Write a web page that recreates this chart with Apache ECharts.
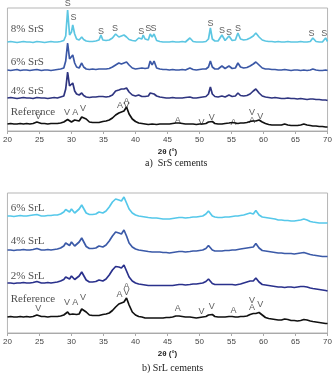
<!DOCTYPE html>
<html>
<head>
<meta charset="utf-8">
<script src="https://cdn.jsdelivr.net/npm/echarts@6/dist/echarts.min.js"></script>
<style>
html, body { margin: 0; padding: 0; background: #fff; }
#main { width: 335px; height: 373px; }
</style>
</head>
<body>
<div id="main"></div>
<script>
// 2theta grid shared by every pattern (denser around the peaks)
var twoTheta = [
  20,20.5,21,21.5,22,22.5,23,23.5,24,24.3,
  24.6,24.9,25.3,25.8,26.3,26.8,27.3,27.8,28.3,28.8,
  29.1,29.4,29.7,30,30.2,30.5,30.8,31.2,31.6,31.9,
  32.3,32.8,33.3,33.8,34.3,34.6,34.9,35.4,35.9,36.4,
  36.9,37.4,37.8,38.2,38.6,39,39.5,40,40.5,41,
  41.2,41.5,42,42.3,42.6,42.9,43.3,43.8,44.3,44.8,
  45.3,45.8,46.3,46.8,47.3,47.8,48.5,49,49.5,50,
  50.5,51,51.4,51.7,52,52.4,52.9,53.5,54,54.6,
  55.1,55.6,56,56.4,56.9,57.4,57.9,58.4,58.8,59.3,
  59.8,60.3,60.8,61.3,61.8,62.3,62.8,63.3,63.8,64.3,
  64.8,65.3,65.8,66.3,66.8,67.3,67.7,68.2,68.7,69.2,
  69.7,70
];

// a) SrS cements (stacked intensities, arbitrary units)
var srs8 = [
  89,89.5,89,88.5,89,89.5,89,89,88.5,89,
  89.5,89,89,88.5,89,89.5,89,89,89.5,90.5,
  95,121,96,99,106,97,92,91,94,91.5,
  90,89.5,89.5,90,91,96,91,90.5,91,93,
  97,94,95,96,94,91.5,90.5,90,93,92,
  96,92,91,97,94,97,90.5,89.5,89,89,
  89,89.5,89,89,89.5,89,93,89.5,89,89,
  89,89.5,92,103,92,90,90,96,90.5,95,
  90.5,91,98,92,91,91.5,93,95,98,94,
  91,90,89.5,89.5,89,89.5,89,89,89.5,89,
  89,89,89.5,89,89,89.5,93,89.5,89,89,
  93,89.5
];
var srs6 = [
  61,60.5,61,61.5,60.5,61,61,60.5,61,61,
  61.5,61,60.5,61,61,60.5,61,61.5,62,63,
  70,88,72,74,76,68,64,63,68,64,
  62,61.5,62,61.5,62,63,62,62,62.5,64,
  66,68,67,68,69,66,63,62,62.5,63,
  63,62.5,63,70,66,70,63,62,61.5,61.5,
  61,61.5,61,61,61.5,61,63,61.5,61,61.5,
  62,62,64,70,64,62,62,65,62.5,65,
  62.5,63,68,64,63,63.5,65,67,69,66,
  63,62,62,61.5,61.5,61,61,61.5,61,60.5,
  61,61,60.5,61,60.5,61,62,61,60.5,60.5,
  61,60.5
];
var srs4 = [
  33,33.5,33,32.5,33,33.5,33,33,32.5,33,
  33.5,33,33,33,32.5,33,33.5,33,34,35,
  42,59,45,46,48,40,37,36,38,35.5,
  34,33.5,34,34,34.5,36,34.5,34,34.5,36,
  40,41,42,42,43,39,36,35,36,34.5,
  35,34.5,35,38,36,37,35,34,33.5,33,
  33,33.5,33,33,33,33.5,34,33,33,33.5,
  34,34.5,37,44,37,34.5,34,35,34,36,
  34.5,35,38,35.5,35,35.5,37,40,42,38,
  35,34,33.5,33,33.5,33,32.5,32.5,33,32.5,
  32.5,32,32.5,32,31.5,32,32,31.5,31.5,31,
  31,30.5
];
var refA = [
  7,7.5,7,7,7.5,7,7.5,7,7.5,8,
  9,8,7.5,7.5,7,7.5,7.5,7.5,8,9,
  11,11.5,9.5,9,10,11,9.5,10,14,15.5,
  12,9,8.5,8.5,8.5,9,9.5,10,11,13,
  16,18,19,20,24,17,12,9.5,8,7.5,
  7,7,6.5,6.5,7,6.5,6.5,7,7,7,
  7,7.5,8,8,7.5,7,7,7,6.5,7,
  7,7.5,9,10.5,9.5,7.5,7,7,7.5,8,
  8.5,8,7.5,8,8,8.5,9.5,10,10,11,
  9,7.5,6.5,6,6,6,6,7,6,5.5,
  5.5,5.5,6,7,6,5.5,5,5,4.5,4.5,
  4,4
];

// b) SrL cements
var srl6 = [
  117,117,116.5,117,117.5,117,117,117.5,118,119,
  118.5,117.5,117,117,117.5,117.5,118,118,119,121,
  123.5,122,121,124,123,120,120,124,128,126,
  120,118.5,118.5,119,121,119.5,120,122,126,131,
  134,133,132,136,130,124,120,118,117,116.5,
  116,116,115.5,115.5,115,115,115,114.5,114,114,
  114,114.5,115,115.5,115.5,115,115.5,116,116,116.5,
  117,119,122,120,117,116,115.5,115.5,116,116,
  116.5,117,117,117.5,118,119,120,119,122.5,118,
  116,115.5,115,114.5,114,113,113,112.5,112.5,112,
  112,112.5,113,114,113,111.5,111,110.5,110,110,
  110,110
];
var srl4 = [
  83,83,82.5,83,83,83.5,83,83,83.5,84,
  84.5,83.5,83,83,83.5,83,83.5,84,85,87,
  90,88.5,87.5,91,90,87,87,91,95,93,
  86.5,84.5,84.5,85,87,85.5,86,88,92,97,
  101,100,99,103,97,90,86,84,83,82.5,
  82,82,81.5,81.5,81,81,81,81,80.5,80.5,
  80,80.5,81,81.5,81.5,81,81.5,82,82,82.5,
  83,84.5,87.5,85.5,83,82,82,82,82.5,82.5,
  83,83,83.5,84,84.5,85,85.5,86,89.5,85,
  82.5,82,81.5,81,80.5,80,80,79.5,79.5,79.5,
  79,79.5,80,80.5,79.5,78.5,78,77.5,77,76.5,
  76.5,76.5
];
var srl2 = [
  50,50,49.5,50,50,50.5,50,50,50.5,51,
  51.5,50.5,50,50,50.5,50,50.5,51,52,53.5,
  56,55,54,57,56,53.5,53.5,57,61,59,
  53,51,51,51.5,53,51.5,52,54,58,63,
  66.5,66,65,68,62,56,52,50,49,48.5,
  48,48,47.5,47.5,47.5,47.5,47.5,47.5,47.5,47.5,
  47.5,47.5,48,48.5,48.5,48,48.5,49,49,49.5,
  50,51.5,54,52.5,49.5,48.5,48.5,48.5,48.5,48.5,
  48.5,48,48.5,49,50,51,52,52,55,51,
  48.5,48,47.5,47,46.5,46,46,45.5,46,46,
  45.5,46,46.5,46.5,46,45,44.5,44,43.5,43,
  42.5,42
];
var refB = [
  16,16.5,16,16,16.5,16,16.5,16,16.5,17,
  18,17,16.5,16.5,16,16.5,16.5,16.5,17,18,
  20,21,18.5,18,19,21,18.5,19,24,26,
  21,18,17.5,17.5,17.5,18,18.5,19,20,22.5,
  26,29,30,31,35,28,21,18,16.5,16,
  15.5,15,15,15,15,15,15,15,15,15.5,
  15.5,16,17,17,16.5,16,16,15.5,15,15.5,
  16,16.5,18,20,18.5,16.5,16,16,16,16.5,
  16.5,16,16,16.5,16.5,17,18.5,19.5,19.5,20.5,
  18,15.5,14.5,14,13.5,13,13,14,13.5,12.5,
  12.5,12,12.5,13.5,13,12,11.5,11,10.5,10,
  9.5,9.5
];

// phase markers: [2theta, height, letter]
var peaksA = [
  [29.4,127,'S'],[30.3,113,'S'],[34.6,99,'S'],[36.8,102,'S'],[40.9,99,'S'],
  [42.0,102,'S'],[42.8,102,'S'],[51.7,107,'S'],[53.5,100,'S'],[54.6,98,'S'],
  [56.0,102,'S'],[67.5,97,'S'],[69.5,97,'S'],
  [24.8,14,'V'],[29.3,18,'V'],[30.6,18,'A'],[31.8,22,'V'],[37.6,25,'A'],
  [38.6,29,'A'],[38.6,25,'V'],[46.6,10,'A'],[50.3,8,'V'],[51.9,13,'V'],
  [55.3,8,'A'],[58.2,18,'V'],[58.2,10,'A'],[59.5,14,'V']
];
var peaksB = [
  [24.8,24,'V'],[29.3,30,'V'],[30.6,30,'A'],[31.8,35,'V'],[37.5,38,'A'],
  [38.6,46,'A'],[38.6,40,'V'],[46.6,24,'A'],[50.3,21,'V'],[51.9,26,'V'],
  [55.3,22,'A'],[58.2,32,'V'],[58.2,25,'A'],[59.5,28,'V']
];

var namesA = ['8% SrS', '6% SrS', '4% SrS', 'Reference'];
var namesB = ['6% SrL', '4% SrL', '2% SrL', 'Reference'];
var nameYA = [102, 69, 40, 19];
var nameYB = [125, 92, 57, 34];
var colorsA = ['#5cc6e2', '#3b58a6', '#2f3580', '#111111'];
var colorsB = ['#55c8ea', '#3b5aa8', '#2a318c', '#111111'];

function pairs(arr) {
  return twoTheta.map(function (t, i) { return [t, arr[i]]; });
}

var series = [];
function addPanel(idx, patterns, names, nameY, colors, peaks) {
  patterns.forEach(function (p, k) {
    series.push({
      type: 'line', xAxisIndex: idx, yAxisIndex: idx,
      data: pairs(p), showSymbol: false, symbol: 'none',
      lineStyle: { color: colors[k], width: 1.7 },
      silent: true, animation: false
    });
  });
  series.push({
    type: 'scatter', xAxisIndex: idx, yAxisIndex: idx, symbolSize: 0,
    clip: false, silent: true, animation: false,
    data: peaks.map(function (p) {
      return { value: [p[0], p[1]], label: { formatter: p[2] } };
    }),
    label: { show: true, position: 'inside', color: '#333',
             fontFamily: 'Liberation Sans', fontSize: 9 }
  });
  series.push({
    type: 'scatter', xAxisIndex: idx, yAxisIndex: idx, symbolSize: 0,
    clip: false, silent: true, animation: false,
    data: names.map(function (n, k) {
      return { value: [20.5, nameY[k]], label: { formatter: n } };
    }),
    label: { show: true, position: 'inside', align: 'left', color: '#222',
             fontFamily: 'Liberation Serif', fontSize: 11 }
  });
}
addPanel(0, [srs8, srs6, srs4, refA], namesA, nameYA, colorsA, peaksA);
addPanel(1, [srl6, srl4, srl2, refB], namesB, nameYB, colorsB, peaksB);

function xAx(idx) {
  return {
    gridIndex: idx, type: 'value', min: 20, max: 70, interval: 5,
    name: '2θ (°)', nameLocation: 'middle', nameGap: 17,
    nameTextStyle: { fontFamily: 'Liberation Sans', fontSize: 8, fontWeight: 'bold', color: '#222' },
    axisLine: { lineStyle: { color: '#aaa' } },
    axisTick: { length: 3, lineStyle: { color: '#aaa' } },
    axisLabel: { fontFamily: 'Liberation Sans', fontSize: 8, color: '#444', margin: 5 },
    splitLine: { show: false }
  };
}

var chart = echarts.init(document.getElementById('main'));
chart.setOption({
  animation: false,
  grid: [
    { left: 4, right: 7, top: 8, bottom: 242, show: true, borderColor: '#b5b5b5', borderWidth: 1 },
    { left: 4, right: 7, top: 193, bottom: 40, show: true, borderColor: '#b5b5b5', borderWidth: 1 }
  ],
  title: [
    { text: 'a)  SrS cements', left: 140, top: 153,
      textStyle: { fontFamily: 'Liberation Serif', fontSize: 10, fontWeight: 'normal', color: '#222' } },
    { text: 'b) SrL cements', left: 137, top: 358,
      textStyle: { fontFamily: 'Liberation Serif', fontSize: 10, fontWeight: 'normal', color: '#222' } }
  ],
  xAxis: [xAx(0), xAx(1)],
  yAxis: [
    { gridIndex: 0, type: 'value', min: 0, max: 123, show: false },
    { gridIndex: 1, type: 'value', min: 0, max: 140, show: false }
  ],
  series: series
});
</script>
</body>
</html>
